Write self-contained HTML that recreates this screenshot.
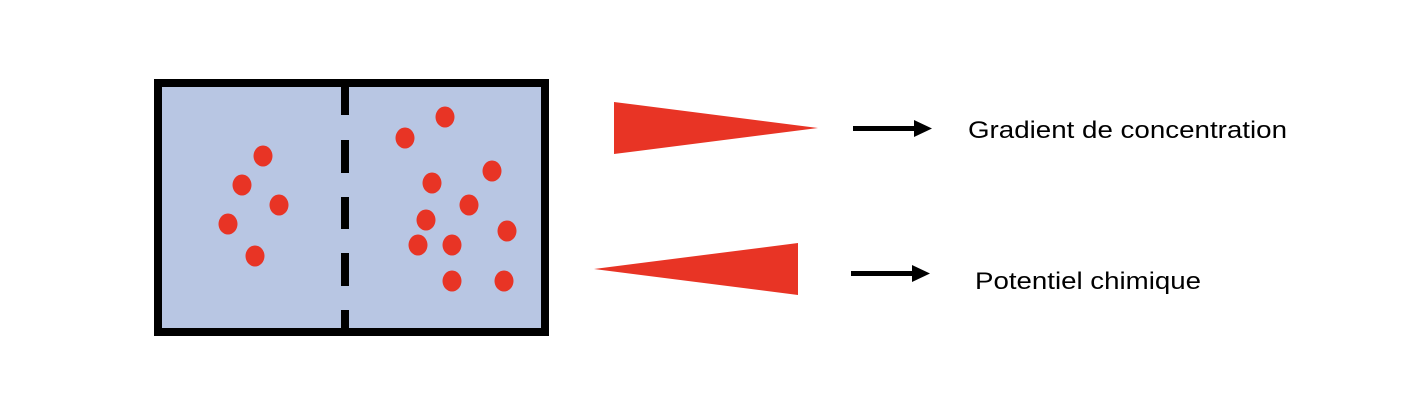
<!DOCTYPE html>
<html><head><style>html,body{margin:0;padding:0;background:#fff;}svg{display:block}</style></head>
<body>
<svg width="1426" height="412" viewBox="0 0 1426 412" xmlns="http://www.w3.org/2000/svg">
<rect x="158" y="83" width="387" height="249" fill="#b8c6e3" stroke="#000" stroke-width="8"/>
<g fill="#000">
<rect x="341" y="79" width="8" height="36"/>
<rect x="341" y="140" width="8" height="33"/>
<rect x="341" y="197" width="8" height="32"/>
<rect x="341" y="253" width="8" height="33"/>
<rect x="341" y="310" width="8" height="26"/>
</g>
<g fill="#e83425">
<ellipse cx="263" cy="156" rx="9.5" ry="10.5"/>
<ellipse cx="242" cy="185" rx="9.5" ry="10.5"/>
<ellipse cx="279" cy="205" rx="9.5" ry="10.5"/>
<ellipse cx="228" cy="224" rx="9.5" ry="10.5"/>
<ellipse cx="255" cy="256" rx="9.5" ry="10.5"/>
<ellipse cx="445" cy="117" rx="9.5" ry="10.5"/>
<ellipse cx="405" cy="138" rx="9.5" ry="10.5"/>
<ellipse cx="492" cy="171" rx="9.5" ry="10.5"/>
<ellipse cx="432" cy="183" rx="9.5" ry="10.5"/>
<ellipse cx="469" cy="205" rx="9.5" ry="10.5"/>
<ellipse cx="426" cy="220" rx="9.5" ry="10.5"/>
<ellipse cx="507" cy="231" rx="9.5" ry="10.5"/>
<ellipse cx="418" cy="245" rx="9.5" ry="10.5"/>
<ellipse cx="452" cy="245" rx="9.5" ry="10.5"/>
<ellipse cx="452" cy="281" rx="9.5" ry="10.5"/>
<ellipse cx="504" cy="281" rx="9.5" ry="10.5"/>
<polygon points="614,102 614,154 818,128"/>
<polygon points="594,269 798,243 798,295"/>
</g>
<g fill="#000">
<rect x="853" y="126" width="64" height="5"/>
<polygon points="914,120 932,128.5 914,137"/>
<rect x="851" y="271" width="64" height="5"/>
<polygon points="912,265 930,273.5 912,282"/>
</g>
<g font-family="'Liberation Sans', sans-serif" font-size="24" fill="#000">
<text x="968" y="138" textLength="319" lengthAdjust="spacingAndGlyphs">Gradient de concentration</text>
<text x="975" y="289" textLength="226" lengthAdjust="spacingAndGlyphs">Potentiel chimique</text>
</g>
</svg>
</body></html>
